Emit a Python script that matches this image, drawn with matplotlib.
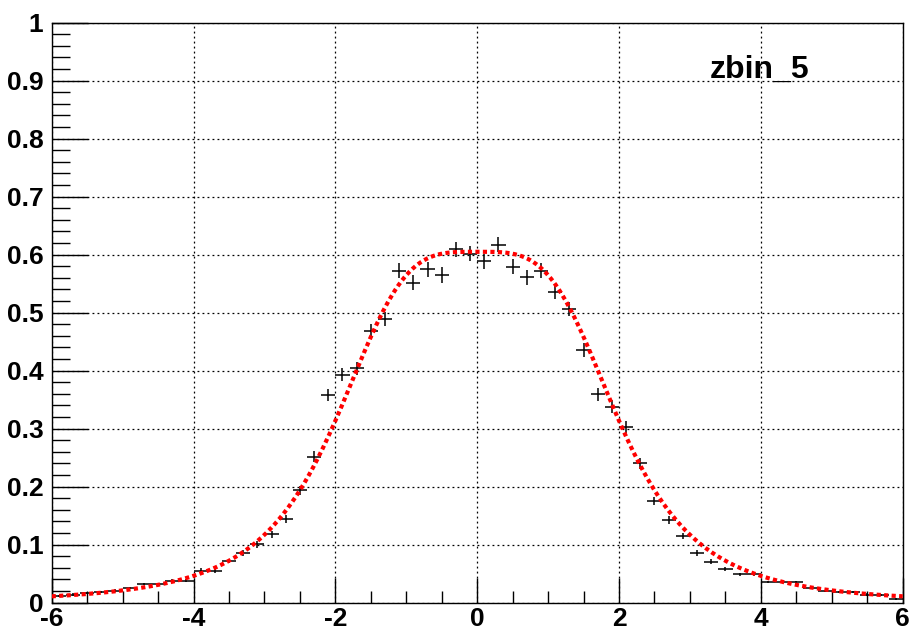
import numpy as np
import matplotlib
matplotlib.use("Agg")
import matplotlib.pyplot as plt
from matplotlib.ticker import MultipleLocator

plt.rcParams['font.family'] = ['Liberation Sans', 'DejaVu Sans']

# histogram contents, 60 bins of width 0.2 from -6 to 6
bin_centers = np.arange(-5.9, 6.0, 0.2)
bin_half_width = 0.1
bin_values = [
    0.012, 0.014, 0.017, 0.018, 0.021, 0.025, 0.032, 0.032, 0.038, 0.038,
    0.055, 0.055, 0.072, 0.086, 0.101, 0.118, 0.145, 0.194, 0.252, 0.358,
    0.393, 0.404, 0.468, 0.489, 0.572, 0.552, 0.575, 0.565, 0.609, 0.602,
    0.589, 0.617, 0.579, 0.561, 0.572, 0.536, 0.506, 0.436, 0.359, 0.338,
    0.303, 0.240, 0.176, 0.143, 0.115, 0.086, 0.071, 0.058, 0.049, 0.049,
    0.036, 0.036, 0.035, 0.025, 0.020, 0.019, 0.019, 0.014, 0.013, 0.006,
]
bin_errors = [
    0.002, 0.002, 0.002, 0.002, 0.002, 0.002, 0.002, 0.002, 0.003, 0.003,
    0.004, 0.004, 0.004, 0.005, 0.006, 0.006, 0.007, 0.008, 0.009, 0.011,
    0.011, 0.011, 0.012, 0.012, 0.013, 0.013, 0.013, 0.013, 0.013, 0.013,
    0.013, 0.013, 0.013, 0.013, 0.013, 0.013, 0.012, 0.012, 0.011, 0.011,
    0.010, 0.009, 0.007, 0.007, 0.006, 0.005, 0.004, 0.004, 0.003, 0.003,
    0.002, 0.002, 0.002, 0.002, 0.002, 0.002, 0.002, 0.002, 0.002, 0.002,
]

# fit function parameters: A / (1 + (|x|/w)^p)
fit_amp = 0.605
fit_width = 2.04
fit_power = 3.7

x_ticks = [-6, -4, -2, 0, 2, 4, 6]
y_ticks = [0, 0.1, 0.2, 0.3, 0.4, 0.5, 0.6, 0.7, 0.8, 0.9, 1]
y_tick_labels = ["0", "0.1", "0.2", "0.3", "0.4", "0.5", "0.6", "0.7", "0.8", "0.9", "1"]

fig = plt.figure(figsize=(9.16, 6.43), dpi=100)
ax = fig.add_axes([0.0564, 0.0627, 0.9291, 0.902])

ax.errorbar(bin_centers, bin_values, xerr=bin_half_width, yerr=bin_errors,
            fmt='none', ecolor='black', elinewidth=1.1, capsize=0, zorder=3)

xf = np.linspace(-6, 6, 600)
yf = fit_amp / (1 + (np.abs(xf) / fit_width) ** fit_power)
ax.plot(xf, yf, color='#ff0000', linewidth=3, linestyle=(0, (1, 0.8)), zorder=4)

ax.set_xlim(-6, 6)
ax.set_ylim(0, 1)
ax.set_xticks(x_ticks)
ax.set_xticklabels([str(t) for t in x_ticks], fontsize=19, fontweight='bold')
ax.set_yticks(y_ticks)
ax.set_yticklabels(y_tick_labels, fontsize=19, fontweight='bold')
ax.xaxis.set_minor_locator(MultipleLocator(0.5))
ax.yaxis.set_minor_locator(MultipleLocator(0.02))
ax.tick_params(which='major', direction='in', length=18, width=1)
ax.tick_params(which='minor', direction='in', length=9, width=1)
ax.tick_params(axis='x', which='major', pad=3)
ax.tick_params(axis='y', which='major', length=26, pad=6)
ax.tick_params(axis='y', which='minor', length=13)

ax.grid(True, which='major', color='black', linestyle=(0, (1.5, 2.5)), linewidth=0.9)
for s in ax.spines.values():
    s.set_linewidth(1)

ax.text(3.28, 0.905, "zbin_5", fontsize=23, fontweight='bold', ha='left', va='baseline')

fig.savefig("out.png", dpi=100)
